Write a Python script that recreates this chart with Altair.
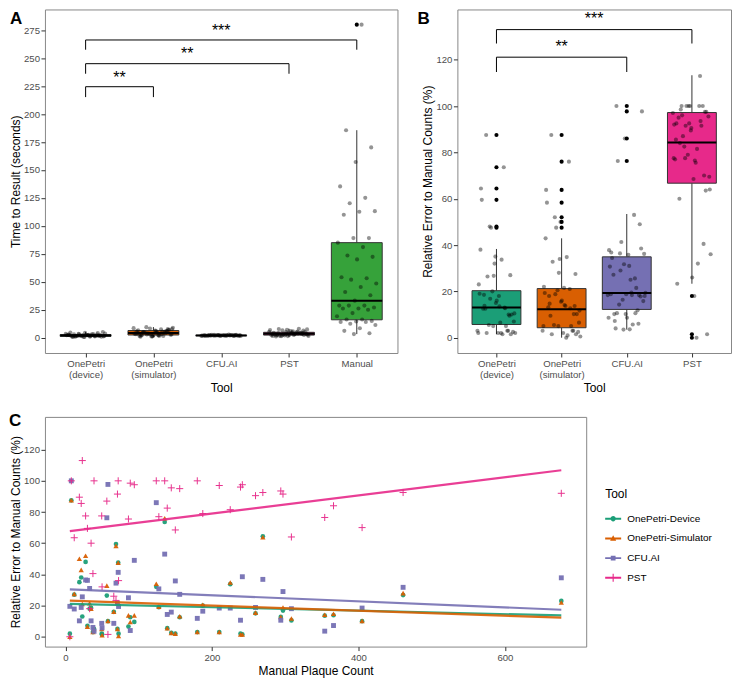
import json
import altair as alt
import pandas as pd

FONT = "Liberation Sans"
GREY_TXT = "#4D4D4D"

# ---------------- Panel A : time to result ----------------
a_labels = ["OnePetri\n(device)", "OnePetri\n(simulator)", "CFU.AI", "PST", "Manual"]
a_colors = ["#1B9E77", "#D95F02", "#7570B3", "#E7298A", "#36A23A"]
a_time_device = [1.0, 1.4, 2.1, 0.6, 2.8, 1.9, 3.4, 1.2, 2.4, 0.8, 4.1, 1.7, 2.2, 3.0, 1.5, 0.9,
                 2.6, 4.6, 1.3, 2.0, 3.7, 1.1, 2.9, 1.8, 0.7, 2.5, 3.2, 1.6, 5.1, 2.3, 1.0, 2.7,
                 1.4, 3.5, 2.0, 0.8, 1.9, 4.3, 2.2, 1.2, 3.1, 1.5, 2.6, 0.9, 1.7, 2.4]
a_time_simulator = [2.1, 4.5, 7.8, 1.2, 5.6, 3.3, 9.4, 2.8, 6.1, 0.9, 4.0, 8.2, 3.6, 1.8, 5.0, 7.1,
                    2.4, 6.6, 1.5, 3.9, 8.8, 4.8, 2.2, 5.9, 1.0, 3.1, 7.4, 4.2, 2.6, 6.3, 1.6, 5.3,
                    3.5, 8.5, 2.0, 4.7, 6.9, 1.3, 3.8, 5.5, 2.9, 7.6, 4.3, 1.9, 6.0, 3.2]
a_time_cfu = [1.8, 2.0, 2.3, 1.6, 2.1, 1.9, 2.5, 1.7, 2.2, 2.0, 1.5, 2.4, 1.8, 2.1, 2.6, 1.9,
              2.0, 1.7, 2.3, 2.2, 1.6, 2.0, 2.4, 1.8, 2.1, 1.9, 2.7, 2.0, 1.7, 2.2, 1.8, 2.3,
              2.0, 1.6, 2.1, 1.9, 2.5, 2.0, 1.8, 2.2, 1.7, 2.4, 2.0, 1.9, 2.1, 2.3]
a_time_pst = [2.5, 4.1, 6.3, 1.4, 3.2, 5.5, 2.0, 7.4, 3.8, 1.1, 4.6, 2.8, 6.8, 3.5, 1.8, 5.1,
              2.3, 4.4, 8.0, 3.0, 1.6, 5.8, 2.6, 3.9, 7.1, 2.1, 4.8, 1.3, 3.4, 6.0, 2.9, 4.2,
              1.9, 5.3, 3.1, 7.7, 2.4, 4.0, 1.5, 3.6, 6.5, 2.7, 4.9, 2.2, 3.3, 5.0]
a_time_manual = [280, 185.6, 170.2, 157.1, 135.3, 125.1, 120.2, 113.2, 112.7, 110, 89.1, 89.1, 85,
                 81, 73.5, 72.3, 70, 54, 53.1, 51.9, 48.5, 45.3, 40.9, 38, 33.1, 28.7, 28.7, 28.7,
                 27, 26.1, 26.1, 25, 22, 19.2, 16.2, 16.2, 15, 14.5, 14, 14, 12.5, 11.3, 8.4,
                 6.1, 4, 3.2]
a_box_lo = [0.5, 0.8, 1.5, 1.0, 3.2]
a_box_q1 = [1.2, 2.4, 1.8, 2.3, 16.0]
a_box_med = [1.9, 4.2, 2.0, 3.4, 33.0]
a_box_q3 = [2.8, 6.4, 2.2, 4.8, 85.0]
a_box_hi = [5.2, 9.5, 2.7, 8.0, 185.6]
a_sig_from = [0, 0, 0]
a_sig_to = [1, 3, 4]
a_sig_y = [224.5, 245.1, 266.3]
a_sig_tip = [215.2, 236.1, 257.6]
a_sig_text = ["**", "**", "***"]
a_sig_text_y = [236, 257, 278]

# ---------------- Panels B and C : relative error ----------------
bc_tools = ["OnePetri-Device", "OnePetri-Simulator", "CFU.AI", "PST"]
b_labels = ["OnePetri\n(device)", "OnePetri\n(simulator)", "CFU.AI", "PST"]
bc_colors = ["#1B9E77", "#D95F02", "#7570B3", "#E7298A"]
manual_count = [6, 8, 12, 19, 21.5, 23, 27.5, 30, 33, 35, 37.5, 39, 49.5, 50, 56.5, 58, 66, 69,
                71, 72, 72.5, 86, 88.5, 94, 124, 127.5, 135.5, 139, 144.5, 150, 156, 180, 187.5,
                210, 225, 239, 241.5, 259.5, 269.5, 294, 297, 308.5, 354, 366, 405, 461, 677]
err_device = [2, 87.5, 27, 35, 38, 13, 48, 7, 18, 18.5, 3, 5, 2, 1.5, 26.4, 10, 16, 59.5, 5,
              47.5, 2, 6.5, 12.5, 9.5, 32, 19, 73.6, 5.5, 2.5, 2, 12.5, 3, 20, 3, 33.7, 2, 1.5,
              15, 64.4, 12.7, 16.8, 10.5, 13.5, 13.8, 10, 26.7, 23]
err_simulator = [0, 87.5, 27.5, 50, 42.9, 21, 52, 6.5, 21.5, 18, 3, 5, 5, 1, 32.8, 10.2, 16,
                 58.3, 5, 47.5, 0.5, 13.7, 9.5, 13.7, 34, 19.3, 76, 5.5, 2.5, 2, 13.1, 3, 20.5,
                 3, 34.8, 1.5, 1.5, 15.5, 63.8, 12.7, 18.8, 11.7, 14.1, 14.7, 10.2, 28, 22]
err_cfu = [19.5, 100, 17.8, 10.2, 18.8, 25.6, 36.4, 36.2, 31, 10.2, 6, 3.5, 8.6, 5.7, 76.3,
           97.7, 8.6, 34.4, 21.5, 41.3, 19.4, 25, 4, 49, 86, 30.7, 53, 14.3, 15.8, 35.8, 27.2,
           11.8, 16.4, 18.4, 18.4, 10.6, 38.5, 18.8, 36.8, 10.6, 29, 18, 3.6, 7.2, 18.4, 31.7, 37.8]
err_pst = [0, 100, 63.5, 89.5, 85.5, 113, 77.5, 69.5, 18, 60, 40.5, 100, 77.5, 32, 87, 1.5, 26,
           23.3, 91.5, 100, 36, 75.5, 98.5, 97.5, 100, 77, 100, 82.5, 95.5, 68.5, 95, 100, 79,
           97, 81.5, 96, 97.5, 90.5, 92.5, 93.5, 91.5, 64, 76.5, 84, 70, 92.5, 92]
b_box_lo = [1.5, 0.0, 3.5, 23.3]
b_box_q1 = [5.7, 4.3, 12.2, 66.7]
b_box_med = [13.0, 12.3, 19.3, 84.3]
b_box_q3 = [20.3, 21.2, 34.9, 97.2]
b_box_hi = [38.3, 42.9, 53.4, 113.3]
b_sig_from = [0, 0]
b_sig_to = [2, 3]
b_sig_y = [121.1, 133.0]
b_sig_tip = [114.7, 127.0]
b_sig_text = ["**", "***"]
b_sig_text_y = [127, 139.2]

c_shapes = ["circle", "triangle-up", "square", "M-1,0H1M0,-1V1"]
legend_paths = [
    "M-1,-0.12H1V0.12H-1Z M0.33,0 A0.33,0.33 0 1 1 -0.33,0 A0.33,0.33 0 1 1 0.33,0 Z",
    "M-1,-0.12H1V0.12H-1Z M0,-0.4 L0.38,0.28 L-0.38,0.28 Z",
    "M-1,-0.12H1V0.12H-1Z M-0.3,-0.3H0.3V0.3H-0.3Z",
    "M-1,-0.12H1V0.12H-1Z M-0.07,-0.5H0.07V0.5H-0.07Z",
]

JITTER = "datum.pos + ((datum.idx * 0.6180339887) % 1 - 0.5) * 0.6"

W_A, W_B, H_AB = 353, 274, 344
W_C, H_C = 542, 230


def letter_layer(letter, dx, dy):
    return alt.Chart(pd.DataFrame({"t": [letter]})).mark_text(
        fontSize=17, fontWeight="bold", align="left", baseline="alphabetic", font=FONT, color="black"
    ).encode(text="t:N", x=alt.value(dx), y=alt.value(dy))


def boxplot_panel(labels, colors, groups, lo, q1, med, q3, hi, s_from, s_to, s_y, s_tip,
                  s_text, s_text_y, ydomain, yticks, ytitle, letter, letter_dx, width, height):
    n = len(labels)
    xs = alt.Scale(domain=[-0.6, n - 1 + 0.6], nice=False, zero=False)
    ys = alt.Scale(domain=ydomain, nice=False, zero=False)
    label_expr = "split(" + json.dumps(labels) + "[datum.value], '\\n')"
    xaxis = alt.Axis(values=list(range(n)), labelExpr=label_expr, title="Tool",
                     labelLineHeight=10.8, labelPadding=2, titlePadding=3)
    yaxis = alt.Axis(values=yticks, title=ytitle, labelPadding=1.5, titlePadding=1)

    def X(f):
        return alt.X(f, type="quantitative", scale=xs, axis=xaxis)

    def Y(f):
        return alt.Y(f, type="quantitative", scale=ys, axis=yaxis)

    box_df = pd.DataFrame({"pos": list(range(n)), "lo": lo, "q1": q1, "med": med, "q3": q3,
                           "hi": hi, "color": colors})
    box_df["left"] = box_df["pos"] - 0.375
    box_df["right"] = box_df["pos"] + 0.375
    wh = []
    for i in range(n):
        wh.append({"pos": i, "y1": lo[i], "y2": q1[i]})
        wh.append({"pos": i, "y1": q3[i], "y2": hi[i]})
    wh_df = pd.DataFrame(wh)
    pts, outs = [], []
    for i, vals in enumerate(groups):
        for v in vals:
            pts.append({"pos": i, "value": v})
            if v < lo[i] - 1e-9 or v > hi[i] + 1e-9:
                outs.append({"pos": i, "value": v})
    pts_df = pd.DataFrame(pts)
    out_df = pd.DataFrame(outs)
    segs = []
    for a, b, y, t in zip(s_from, s_to, s_y, s_tip):
        segs.append({"x1": a, "x2": b, "y1": y, "y2": y})
        segs.append({"x1": a, "x2": a, "y1": y, "y2": t})
        segs.append({"x1": b, "x2": b, "y1": y, "y2": t})
    seg_df = pd.DataFrame(segs)
    txt_df = pd.DataFrame({"x": [(a + b) / 2 for a, b in zip(s_from, s_to)], "y": s_text_y,
                           "t": s_text})

    whisk = alt.Chart(wh_df).mark_rule(color="#333333", strokeWidth=1).encode(
        x=X("pos"), y=Y("y1"), y2="y2:Q")
    boxes = alt.Chart(box_df).mark_rect(stroke="#333333", strokeWidth=1).encode(
        x=X("left"), x2="right:Q", y=Y("q1"), y2="q3:Q", fill=alt.Fill("color:N", scale=None))
    medians = alt.Chart(box_df).mark_rule(color="black", strokeWidth=2).encode(
        x=X("left"), x2="right:Q", y=Y("med"))
    outl = alt.Chart(out_df).mark_circle(size=17, color="black", opacity=1).encode(
        x=X("pos"), y=Y("value"))
    jit = alt.Chart(pts_df).transform_window(
        idx="row_number()", groupby=["pos"]).transform_calculate(xj=JITTER).mark_circle(
        size=17, color="black", opacity=0.42).encode(x=X("xj"), y=Y("value"))
    brackets = alt.Chart(seg_df).mark_rule(color="black", strokeWidth=1).encode(
        x=X("x1"), x2="x2:Q", y=Y("y1"), y2="y2:Q")
    stars = alt.Chart(txt_df).mark_text(fontSize=16, font=FONT, baseline="middle", dy=4,
                                        color="black").encode(x=X("x"), y=Y("y"), text="t:N")
    let = letter_layer(letter, letter_dx, 15)
    return alt.layer(whisk, boxes, medians, outl, jit, brackets, stars, let).properties(
        width=width, height=height)


chart_a = boxplot_panel(a_labels, a_colors,
                        [a_time_device, a_time_simulator, a_time_cfu, a_time_pst, a_time_manual],
                        a_box_lo, a_box_q1, a_box_med, a_box_q3, a_box_hi,
                        a_sig_from, a_sig_to, a_sig_y, a_sig_tip, a_sig_text, a_sig_text_y,
                        [-13.7, 293.6], list(range(0, 300, 25)), "Time to Result (seconds)",
                        "A", -35, W_A, H_AB)

chart_b = boxplot_panel(b_labels, bc_colors, [err_device, err_simulator, err_cfu, err_pst],
                        b_box_lo, b_box_q1, b_box_med, b_box_q3, b_box_hi,
                        b_sig_from, b_sig_to, b_sig_y, b_sig_tip, b_sig_text, b_sig_text_y,
                        [-6.6, 141.7], list(range(0, 140, 20)),
                        "Relative Error to Manual Counts (%)", "B", -40, W_B, H_AB)

# ---------------- Panel C ----------------
rows = []
for t, vals in zip(bc_tools, [err_device, err_simulator, err_cfu, err_pst]):
    for x, v in zip(manual_count, vals):
        rows.append({"count": x, "err": v, "tool": t})
c_df = pd.DataFrame(rows)

cxs = alt.Scale(domain=[-28, 711], nice=False, zero=False)
cys = alt.Scale(domain=[-6.3, 141], nice=False, zero=False)
cx_axis = alt.Axis(values=[0, 200, 400, 600], title="Manual Plaque Count", labelPadding=2,
                   titlePadding=3)
cy_axis = alt.Axis(values=list(range(0, 140, 20)), title="Relative Error to Manual Counts (%)",
                   labelPadding=1.5, titlePadding=1)
CX = alt.X("count:Q", scale=cxs, axis=cx_axis)
CY = alt.Y("err:Q", scale=cys, axis=cy_axis)

c_layers = []
point_sizes = [22, 28, 24, 50]
for i, (t, col, shp, sz) in enumerate(zip(bc_tools, bc_colors, c_shapes, point_sizes)):
    filled = i < 3
    c_layers.append(
        alt.Chart(c_df).transform_filter(alt.datum.tool == t).mark_point(
            shape=shp, filled=filled, size=sz, color=col, opacity=0.95,
            strokeWidth=1 if not filled else 0).encode(x=CX, y=CY))
for t, col in zip(bc_tools, bc_colors):
    c_layers.append(
        alt.Chart(c_df).transform_filter(alt.datum.tool == t).transform_regression(
            "count", "err", method="linear").mark_line(color=col, strokeWidth=2.2, opacity=0.9).encode(
            x=CX, y=CY))

leg = alt.Legend(title="Tool", orient="none", legendX=W_C + 19, legendY=H_AB + 42 + 17 + 3 + 74,
                 symbolSize=256, labelFontSize=10, titleFontSize=12, titleFontWeight="normal",
                 rowPadding=6.7, labelOffset=6, symbolStrokeWidth=0, titlePadding=10,
                 labelColor="black", titleColor="black", labelFont=FONT, titleFont=FONT)
legend_layer = alt.Chart(c_df).transform_filter("false").mark_point(filled=True, opacity=1).encode(
    x=CX, y=CY,
    color=alt.Color("tool:N", scale=alt.Scale(domain=bc_tools, range=bc_colors), legend=leg),
    shape=alt.Shape("tool:N", scale=alt.Scale(domain=bc_tools, range=legend_paths), legend=leg))
c_layers.append(legend_layer)
c_layers.append(letter_layer("C", -36, 9))
chart_c = alt.layer(*c_layers).properties(width=W_C, height=H_C)

top = alt.hconcat(chart_a, chart_b, spacing=18)
chart = alt.vconcat(top, chart_c, spacing=17).properties(padding=0).configure(
    font=FONT).configure_view(stroke="#888888", strokeWidth=1).configure_axis(
    domain=False, grid=False, tickColor="#333333", tickSize=4, labelColor=GREY_TXT,
    labelFontSize=9.6, titleFontSize=12, titleFontWeight="normal", titleColor="black",
    labelFont=FONT, titleFont=FONT)

chart.save("out.html", embed_options={"renderer": "svg", "actions": False})
